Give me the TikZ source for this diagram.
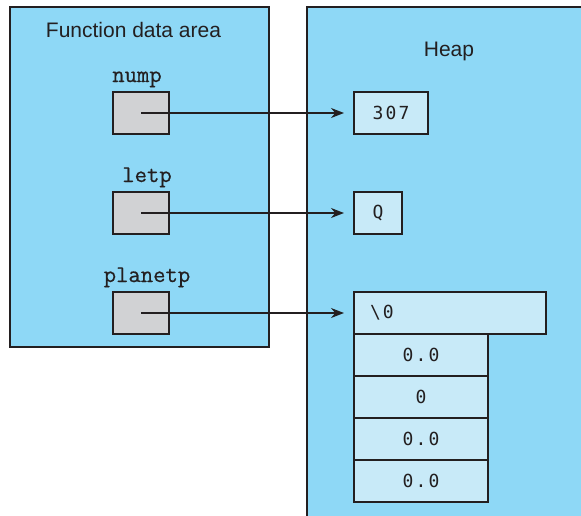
\documentclass[tikz,border=0pt]{standalone}
\usepackage{fontspec}
\setmainfont{Liberation Sans}
\newfontfamily\valfont[LetterSpace=12]{DejaVu Sans Mono}
\newfontfamily\labfont[FakeBold=0.6]{Latin Modern Mono}
\usetikzlibrary{arrows.meta}
\definecolor{areablue}{HTML}{8ED8F6}
\definecolor{cellblue}{HTML}{C8EAF8}
\definecolor{boxgray}{HTML}{D1D2D4}
\definecolor{ink}{HTML}{231F20}
\tikzset{
  area/.style={draw=ink, fill=areablue, line width=1.8pt},
  title/.style={font=\fontsize{21}{24}\selectfont, text=ink, inner sep=0pt},
  varlabel/.style={font=\fontsize{24}{26}\labfont, text=ink, inner sep=0pt, anchor=base},
  graybox/.style={draw=ink, fill=boxgray, line width=1.8pt, minimum width=56pt, minimum height=42pt, inner sep=0pt, outer sep=0pt},
  cell/.style={draw=ink, fill=cellblue, line width=1.6pt, minimum height=42pt, inner sep=0pt, outer sep=0pt, font=\fontsize{18}{20}\valfont, text=ink},
  ptr/.style={draw=ink, line width=1.4pt, -{Stealth[length=13pt,width=10pt]}, shorten >=10pt}
}
\begin{document}
\begin{tikzpicture}[x=1pt,y=-1pt]
\useasboundingbox (0,0) rectangle (581,515);
\clip (0,0) rectangle (581,515);
% areas
\draw[area] (10,7) rectangle (269,347);
\draw[area] (307,7) rectangle (600,530);
\node[title] (ftitle) at (133.5,30) {Function data area};
\node[title, anchor=base] (htitle) at (449,56) {Heap};
% variable labels
\node[varlabel] (lnump) at (137,82) {nump};
\node[varlabel] (lletp) at (147,182) {letp};
\node[varlabel] (lplanetp) at (147,282) {planetp};
% gray pointer boxes
\node[graybox] (bnump) at (141,113) {};
\node[graybox] (bletp) at (141,213) {};
\node[graybox] (bplanetp) at (141,313) {};
% heap cells
\node[cell, minimum width=74pt] (v307) at (391,113) {307};
\node[cell, minimum width=48pt] (vQ) at (378,213) {Q};
\node[cell, minimum width=192pt, text width=160pt, align=left, inner xsep=16pt] (vnul) at (450,313) {\textbackslash0};
\node[cell, minimum width=134pt] (va) at (421,355) {0.0};
\node[cell, minimum width=134pt] (vb) at (421,397) {0};
\node[cell, minimum width=134pt] (vc) at (421,439) {0.0};
\node[cell, minimum width=134pt] (vd) at (421,481) {0.0};
% pointers
\draw[ptr] (bnump.center) -- (v307.west);
\draw[ptr] (bletp.center) -- (vQ.west);
\draw[ptr] (bplanetp.center) -- (vnul.west);
\end{tikzpicture}
\end{document}
